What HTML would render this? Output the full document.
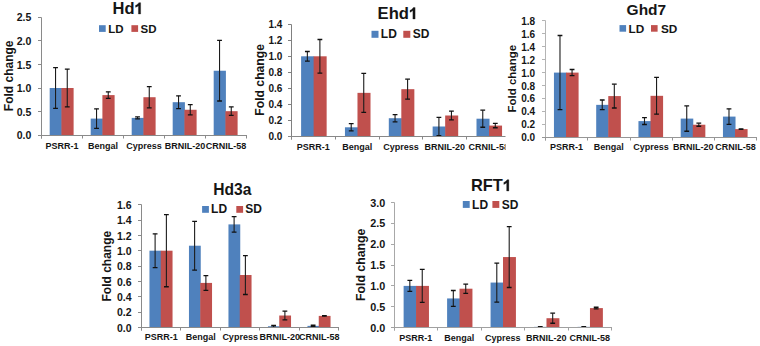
<!DOCTYPE html>
<html><head><meta charset="utf-8"><style>
html,body{margin:0;padding:0;background:#fff;width:760px;height:346px;overflow:hidden}
svg{display:block}
text{font-family:"Liberation Sans", sans-serif;font-weight:bold;fill:#151515}
</style></head><body>
<svg width="760" height="346" viewBox="0 0 760 346">
<rect width="760" height="346" fill="#fff"/>
<g>
<rect x="49.69" y="88" width="12.21" height="47.3" fill="#4F81BD"/>
<rect x="61.4" y="88" width="12.21" height="47.3" fill="#C0504D"/>
<rect x="90.69" y="118.6" width="12.21" height="16.7" fill="#4F81BD"/>
<rect x="102.4" y="95.1" width="12.21" height="40.2" fill="#C0504D"/>
<rect x="131.69" y="117.89" width="12.21" height="17.41" fill="#4F81BD"/>
<rect x="143.4" y="97.22" width="12.21" height="38.08" fill="#C0504D"/>
<rect x="172.69" y="102.19" width="12.21" height="33.11" fill="#4F81BD"/>
<rect x="184.4" y="109.76" width="12.21" height="25.54" fill="#C0504D"/>
<rect x="213.69" y="70.74" width="12.21" height="64.56" fill="#4F81BD"/>
<rect x="225.4" y="111.18" width="12.21" height="24.12" fill="#C0504D"/>
<path d="M55.54 67.66V108.34" stroke="#1c1c1c" stroke-width="1.1" fill="none"/>
<path d="M53.14 67.66H57.94M53.14 108.34H57.94" stroke="#111" stroke-width="1.3" fill="none"/>
<path d="M67.26 69.08V106.92" stroke="#1c1c1c" stroke-width="1.1" fill="none"/>
<path d="M64.86 69.08H69.66M64.86 106.92H69.66" stroke="#111" stroke-width="1.3" fill="none"/>
<path d="M96.54 108.91V128.3" stroke="#1c1c1c" stroke-width="1.1" fill="none"/>
<path d="M94.14 108.91H98.94M94.14 128.3H98.94" stroke="#111" stroke-width="1.3" fill="none"/>
<path d="M108.26 91.78V98.41" stroke="#1c1c1c" stroke-width="1.1" fill="none"/>
<path d="M105.86 91.78H110.66M105.86 98.41H110.66" stroke="#111" stroke-width="1.3" fill="none"/>
<path d="M137.54 116.95V118.84" stroke="#1c1c1c" stroke-width="1.1" fill="none"/>
<path d="M135.14 116.95H139.94M135.14 118.84H139.94" stroke="#111" stroke-width="1.3" fill="none"/>
<path d="M149.26 86.58V107.87" stroke="#1c1c1c" stroke-width="1.1" fill="none"/>
<path d="M146.86 86.58H151.66M146.86 107.87H151.66" stroke="#111" stroke-width="1.3" fill="none"/>
<path d="M178.54 95.8V108.58" stroke="#1c1c1c" stroke-width="1.1" fill="none"/>
<path d="M176.14 95.8H180.94M176.14 108.58H180.94" stroke="#111" stroke-width="1.3" fill="none"/>
<path d="M190.26 104.56V114.96" stroke="#1c1c1c" stroke-width="1.1" fill="none"/>
<path d="M187.86 104.56H192.66M187.86 114.96H192.66" stroke="#111" stroke-width="1.3" fill="none"/>
<path d="M219.54 40.46V101.01" stroke="#1c1c1c" stroke-width="1.1" fill="none"/>
<path d="M217.14 40.46H221.94M217.14 101.01H221.94" stroke="#111" stroke-width="1.3" fill="none"/>
<path d="M231.26 106.92V115.43" stroke="#1c1c1c" stroke-width="1.1" fill="none"/>
<path d="M228.86 106.92H233.66M228.86 115.43H233.66" stroke="#111" stroke-width="1.3" fill="none"/>
<path d="M41.5 17.5V138.5M38 135.5H41.5M38 111.5H41.5M38 88.5H41.5M38 64.5H41.5M38 40.5H41.5M38 17.5H41.5" stroke="#8a8a8a" stroke-width="1" fill="none"/>
<path d="M38 135.5H247M41.5 135.5V138.5M82.5 135.5V138.5M123.5 135.5V138.5M164.5 135.5V138.5M205.5 135.5V138.5M246.5 135.5V138.5" stroke="#8a8a8a" stroke-width="1" fill="none"/>
<text x="31.3" y="139.48" font-size="10.5" text-anchor="end">0.0</text>
<text x="31.3" y="115.83" font-size="10.5" text-anchor="end">0.5</text>
<text x="31.3" y="92.18" font-size="10.5" text-anchor="end">1.0</text>
<text x="31.3" y="68.53" font-size="10.5" text-anchor="end">1.5</text>
<text x="31.3" y="44.88" font-size="10.5" text-anchor="end">2.0</text>
<text x="31.3" y="21.23" font-size="10.5" text-anchor="end">2.5</text>
<text x="62" y="148.6" font-size="9" text-anchor="middle">PSRR-1</text>
<text x="103" y="148.6" font-size="9" text-anchor="middle">Bengal</text>
<text x="144" y="148.6" font-size="9" text-anchor="middle">Cypress</text>
<text x="185" y="148.6" font-size="9" text-anchor="middle">BRNIL-20</text>
<text x="226" y="148.6" font-size="9" text-anchor="middle">CRNIL-58</text>
</g>
<text x="112.51" y="14" font-size="16.5">Hd</text>
<path transform="translate(134.51 14) scale(0.00806 -0.00806)" d="M759 0H484V1033C384 940 266 871 129 826V1075C201 1099 279 1143 364 1209C449 1275 507 1355 538 1409H759Z" fill="#151515" stroke="#151515" stroke-width="0.3" vector-effect="non-scaling-stroke"/>
<rect x="99" y="25.2" width="6.7" height="6.7" fill="#4F81BD"/>
<rect x="131.4" y="25.2" width="6.7" height="6.7" fill="#C0504D"/>
<text x="108.2" y="32.9" font-size="11.5">LD</text>
<text x="140.6" y="32.9" font-size="11.5">SD</text>
<text transform="translate(12.6 75.8) rotate(-90)" font-size="12" text-anchor="middle">Fold change</text>
<clipPath id="c1"><rect x="0" y="0" width="505.5" height="346"/></clipPath>
<g clip-path="url(#c1)">
<rect x="301.1" y="56.3" width="13.03" height="80" fill="#4F81BD"/>
<rect x="313.62" y="56.3" width="13.03" height="80" fill="#C0504D"/>
<rect x="344.95" y="127.3" width="13.03" height="9" fill="#4F81BD"/>
<rect x="357.48" y="92.86" width="13.03" height="43.44" fill="#C0504D"/>
<rect x="388.8" y="118.22" width="13.03" height="18.08" fill="#4F81BD"/>
<rect x="401.32" y="89.18" width="13.03" height="47.12" fill="#C0504D"/>
<rect x="432.65" y="126.5" width="13.03" height="9.8" fill="#4F81BD"/>
<rect x="445.17" y="115.5" width="13.03" height="20.8" fill="#C0504D"/>
<rect x="476.5" y="118.7" width="13.03" height="17.6" fill="#4F81BD"/>
<rect x="489.02" y="125.58" width="13.03" height="10.72" fill="#C0504D"/>
<path d="M307.36 51.5V61.1" stroke="#1c1c1c" stroke-width="1.1" fill="none"/>
<path d="M304.96 51.5H309.76M304.96 61.1H309.76" stroke="#111" stroke-width="1.3" fill="none"/>
<path d="M319.89 39.5V73.1" stroke="#1c1c1c" stroke-width="1.1" fill="none"/>
<path d="M317.49 39.5H322.29M317.49 73.1H322.29" stroke="#111" stroke-width="1.3" fill="none"/>
<path d="M351.21 123.7V130.9" stroke="#1c1c1c" stroke-width="1.1" fill="none"/>
<path d="M348.81 123.7H353.61M348.81 130.9H353.61" stroke="#111" stroke-width="1.3" fill="none"/>
<path d="M363.74 73.42V112.3" stroke="#1c1c1c" stroke-width="1.1" fill="none"/>
<path d="M361.34 73.42H366.14M361.34 112.3H366.14" stroke="#111" stroke-width="1.3" fill="none"/>
<path d="M395.06 114.62V121.82" stroke="#1c1c1c" stroke-width="1.1" fill="none"/>
<path d="M392.66 114.62H397.46M392.66 121.82H397.46" stroke="#111" stroke-width="1.3" fill="none"/>
<path d="M407.59 79.18V99.18" stroke="#1c1c1c" stroke-width="1.1" fill="none"/>
<path d="M405.19 79.18H409.99M405.19 99.18H409.99" stroke="#111" stroke-width="1.3" fill="none"/>
<path d="M438.91 117.3V135.7" stroke="#1c1c1c" stroke-width="1.1" fill="none"/>
<path d="M436.51 117.3H441.31M436.51 135.7H441.31" stroke="#111" stroke-width="1.3" fill="none"/>
<path d="M451.44 111.1V119.9" stroke="#1c1c1c" stroke-width="1.1" fill="none"/>
<path d="M449.04 111.1H453.84M449.04 119.9H453.84" stroke="#111" stroke-width="1.3" fill="none"/>
<path d="M482.76 110.14V127.26" stroke="#1c1c1c" stroke-width="1.1" fill="none"/>
<path d="M480.36 110.14H485.16M480.36 127.26H485.16" stroke="#111" stroke-width="1.3" fill="none"/>
<path d="M495.29 123.42V127.74" stroke="#1c1c1c" stroke-width="1.1" fill="none"/>
<path d="M492.89 123.42H497.69M492.89 127.74H497.69" stroke="#111" stroke-width="1.3" fill="none"/>
<path d="M291.5 24.5V139.5M288 136.5H291.5M288 120.5H291.5M288 104.5H291.5M288 88.5H291.5M288 72.5H291.5M288 56.5H291.5M288 40.5H291.5M288 24.5H291.5" stroke="#808080" stroke-width="1" fill="none"/>
<path d="M288 136.5H511M291.5 136.5V139.5M335.5 136.5V139.5M379.5 136.5V139.5M422.5 136.5V139.5M466.5 136.5V139.5M510.5 136.5V139.5" stroke="#888888" stroke-width="1" fill="none"/>
<text x="282.3" y="140.3" font-size="10" text-anchor="end">0.0</text>
<text x="282.3" y="124.3" font-size="10" text-anchor="end">0.2</text>
<text x="282.3" y="108.3" font-size="10" text-anchor="end">0.4</text>
<text x="282.3" y="92.3" font-size="10" text-anchor="end">0.6</text>
<text x="282.3" y="76.3" font-size="10" text-anchor="end">0.8</text>
<text x="282.3" y="60.3" font-size="10" text-anchor="end">1.0</text>
<text x="282.3" y="44.3" font-size="10" text-anchor="end">1.2</text>
<text x="282.3" y="28.3" font-size="10" text-anchor="end">1.4</text>
<text x="313.32" y="149.6" font-size="9" text-anchor="middle">PSRR-1</text>
<text x="357.17" y="149.6" font-size="9" text-anchor="middle">Bengal</text>
<text x="401.02" y="149.6" font-size="9" text-anchor="middle">Cypress</text>
<text x="444.88" y="149.6" font-size="9" text-anchor="middle">BRNIL-20</text>
<text x="488.73" y="149.6" font-size="9" text-anchor="middle">CRNIL-58</text>
</g>
<text x="377.61" y="19" font-size="16.6">Ehd</text>
<path transform="translate(408.96 19) scale(0.00811 -0.00811)" d="M759 0H484V1033C384 940 266 871 129 826V1075C201 1099 279 1143 364 1209C449 1275 507 1355 538 1409H759Z" fill="#151515" stroke="#151515" stroke-width="0.3" vector-effect="non-scaling-stroke"/>
<rect x="371.5" y="30.8" width="7" height="7" fill="#4F81BD"/>
<rect x="403.3" y="30.8" width="7" height="7" fill="#C0504D"/>
<text x="380.8" y="38.3" font-size="12">LD</text>
<text x="412.7" y="38.3" font-size="12">SD</text>
<text transform="translate(263.5 79.85) rotate(-90)" font-size="12.2" text-anchor="middle">Fold change</text>
<g>
<rect x="553.95" y="72.6" width="12.57" height="64.5" fill="#4F81BD"/>
<rect x="566.02" y="72.6" width="12.57" height="64.5" fill="#C0504D"/>
<rect x="596.2" y="104.85" width="12.57" height="32.25" fill="#4F81BD"/>
<rect x="608.27" y="96.08" width="12.57" height="41.02" fill="#C0504D"/>
<rect x="638.45" y="121.1" width="12.57" height="16" fill="#4F81BD"/>
<rect x="650.52" y="95.82" width="12.57" height="41.28" fill="#C0504D"/>
<rect x="680.7" y="118.59" width="12.57" height="18.51" fill="#4F81BD"/>
<rect x="692.77" y="124.72" width="12.57" height="12.38" fill="#C0504D"/>
<rect x="722.95" y="116.59" width="12.57" height="20.51" fill="#4F81BD"/>
<rect x="735.02" y="129.1" width="12.57" height="8" fill="#C0504D"/>
<path d="M559.99 35.51V109.69" stroke="#1c1c1c" stroke-width="1.1" fill="none"/>
<path d="M557.59 35.51H562.39M557.59 109.69H562.39" stroke="#111" stroke-width="1.3" fill="none"/>
<path d="M572.06 69.5V75.7" stroke="#1c1c1c" stroke-width="1.1" fill="none"/>
<path d="M569.66 69.5H574.46M569.66 75.7H574.46" stroke="#111" stroke-width="1.3" fill="none"/>
<path d="M602.24 100.01V109.69" stroke="#1c1c1c" stroke-width="1.1" fill="none"/>
<path d="M599.84 100.01H604.64M599.84 109.69H604.64" stroke="#111" stroke-width="1.3" fill="none"/>
<path d="M614.31 84.15V108.01" stroke="#1c1c1c" stroke-width="1.1" fill="none"/>
<path d="M611.91 84.15H616.71M611.91 108.01H616.71" stroke="#111" stroke-width="1.3" fill="none"/>
<path d="M644.49 117.69V124.52" stroke="#1c1c1c" stroke-width="1.1" fill="none"/>
<path d="M642.09 117.69H646.89M642.09 124.52H646.89" stroke="#111" stroke-width="1.3" fill="none"/>
<path d="M656.56 77.44V114.2" stroke="#1c1c1c" stroke-width="1.1" fill="none"/>
<path d="M654.16 77.44H658.96M654.16 114.2H658.96" stroke="#111" stroke-width="1.3" fill="none"/>
<path d="M686.74 105.95V131.23" stroke="#1c1c1c" stroke-width="1.1" fill="none"/>
<path d="M684.34 105.95H689.14M684.34 131.23H689.14" stroke="#111" stroke-width="1.3" fill="none"/>
<path d="M698.81 123.17V126.26" stroke="#1c1c1c" stroke-width="1.1" fill="none"/>
<path d="M696.41 123.17H701.21M696.41 126.26H701.21" stroke="#111" stroke-width="1.3" fill="none"/>
<path d="M728.99 108.85V124.33" stroke="#1c1c1c" stroke-width="1.1" fill="none"/>
<path d="M726.59 108.85H731.39M726.59 124.33H731.39" stroke="#111" stroke-width="1.3" fill="none"/>
<path d="M741.06 128.78V129.42" stroke="#1c1c1c" stroke-width="1.1" fill="none"/>
<path d="M738.66 128.78H743.46M738.66 129.42H743.46" stroke="#111" stroke-width="1.3" fill="none"/>
<path d="M545.5 20.5V140.5M542 137.5H545.5M542 124.5H545.5M542 111.5H545.5M542 98.5H545.5M542 85.5H545.5M542 72.5H545.5M542 59.5H545.5M542 46.5H545.5M542 33.5H545.5M542 20.5H545.5" stroke="#b4b4b4" stroke-width="1" fill="none"/>
<path d="M542 137.5H757M545.5 137.5V140.5M587.5 137.5V140.5M630.5 137.5V140.5M672.5 137.5V140.5M714.5 137.5V140.5M756.5 137.5V140.5" stroke="#969696" stroke-width="1" fill="none"/>
<text x="535.2" y="141.1" font-size="10" text-anchor="end">0.0</text>
<text x="535.2" y="128.2" font-size="10" text-anchor="end">0.2</text>
<text x="535.2" y="115.3" font-size="10" text-anchor="end">0.4</text>
<text x="535.2" y="102.4" font-size="10" text-anchor="end">0.6</text>
<text x="535.2" y="89.5" font-size="10" text-anchor="end">0.8</text>
<text x="535.2" y="76.6" font-size="10" text-anchor="end">1.0</text>
<text x="535.2" y="63.7" font-size="10" text-anchor="end">1.2</text>
<text x="535.2" y="50.8" font-size="10" text-anchor="end">1.4</text>
<text x="535.2" y="37.9" font-size="10" text-anchor="end">1.6</text>
<text x="535.2" y="25" font-size="10" text-anchor="end">1.8</text>
<text x="566.62" y="149.8" font-size="9" text-anchor="middle">PSRR-1</text>
<text x="608.88" y="149.8" font-size="9" text-anchor="middle">Bengal</text>
<text x="651.12" y="149.8" font-size="9" text-anchor="middle">Cypress</text>
<text x="693.38" y="149.8" font-size="9" text-anchor="middle">BRNIL-20</text>
<text x="735.62" y="149.8" font-size="9" text-anchor="middle">CRNIL-58</text>
</g>
<text x="646.4" y="15.1" font-size="15.5" text-anchor="middle">Ghd7</text>
<rect x="619.5" y="25.1" width="6.6" height="6.6" fill="#4F81BD"/>
<rect x="651" y="25.1" width="6.6" height="6.6" fill="#C0504D"/>
<text x="628.6" y="32.7" font-size="11.8">LD</text>
<text x="661" y="32.7" font-size="11.8">SD</text>
<text transform="translate(516 78.7) rotate(-90)" font-size="11.5" text-anchor="middle">Fold change</text>
<g>
<rect x="149.46" y="250.7" width="11.79" height="76.7" fill="#4F81BD"/>
<rect x="160.75" y="250.7" width="11.79" height="76.7" fill="#C0504D"/>
<rect x="188.96" y="245.71" width="11.79" height="81.69" fill="#4F81BD"/>
<rect x="200.25" y="282.91" width="11.79" height="44.49" fill="#C0504D"/>
<rect x="228.46" y="224.39" width="11.79" height="103.01" fill="#4F81BD"/>
<rect x="239.75" y="275.01" width="11.79" height="52.39" fill="#C0504D"/>
<rect x="267.96" y="326.25" width="11.79" height="1.15" fill="#4F81BD"/>
<rect x="279.25" y="315.51" width="11.79" height="11.89" fill="#C0504D"/>
<rect x="307.46" y="325.87" width="11.79" height="1.53" fill="#4F81BD"/>
<rect x="318.75" y="315.89" width="11.79" height="11.5" fill="#C0504D"/>
<path d="M155.11 233.83V267.57" stroke="#1c1c1c" stroke-width="1.1" fill="none"/>
<path d="M152.71 233.83H157.51M152.71 267.57H157.51" stroke="#111" stroke-width="1.3" fill="none"/>
<path d="M166.39 214.65V286.75" stroke="#1c1c1c" stroke-width="1.1" fill="none"/>
<path d="M163.99 214.65H168.79M163.99 286.75H168.79" stroke="#111" stroke-width="1.3" fill="none"/>
<path d="M194.61 221.4V270.03" stroke="#1c1c1c" stroke-width="1.1" fill="none"/>
<path d="M192.21 221.4H197.01M192.21 270.03H197.01" stroke="#111" stroke-width="1.3" fill="none"/>
<path d="M205.89 275.55V290.28" stroke="#1c1c1c" stroke-width="1.1" fill="none"/>
<path d="M203.49 275.55H208.29M203.49 290.28H208.29" stroke="#111" stroke-width="1.3" fill="none"/>
<path d="M234.11 216.72V232.06" stroke="#1c1c1c" stroke-width="1.1" fill="none"/>
<path d="M231.71 216.72H236.51M231.71 232.06H236.51" stroke="#111" stroke-width="1.3" fill="none"/>
<path d="M245.39 255.53V294.5" stroke="#1c1c1c" stroke-width="1.1" fill="none"/>
<path d="M242.99 255.53H247.79M242.99 294.5H247.79" stroke="#111" stroke-width="1.3" fill="none"/>
<path d="M273.61 325.33V327.17" stroke="#1c1c1c" stroke-width="1.1" fill="none"/>
<path d="M271.21 325.33H276.01M271.21 327.17H276.01" stroke="#111" stroke-width="1.3" fill="none"/>
<path d="M284.89 311.06V319.96" stroke="#1c1c1c" stroke-width="1.1" fill="none"/>
<path d="M282.49 311.06H287.29M282.49 319.96H287.29" stroke="#111" stroke-width="1.3" fill="none"/>
<path d="M313.11 325.25V326.48" stroke="#1c1c1c" stroke-width="1.1" fill="none"/>
<path d="M310.71 325.25H315.51M310.71 326.48H315.51" stroke="#111" stroke-width="1.3" fill="none"/>
<path d="M324.39 315.66V316.13" stroke="#1c1c1c" stroke-width="1.1" fill="none"/>
<path d="M321.99 315.66H326.79M321.99 316.13H326.79" stroke="#111" stroke-width="1.3" fill="none"/>
<path d="M141.5 204.5V330.5M138 327.5H141.5M138 312.5H141.5M138 296.5H141.5M138 281.5H141.5M138 266.5H141.5M138 250.5H141.5M138 235.5H141.5M138 220.5H141.5M138 204.5H141.5" stroke="#8a8a8a" stroke-width="1" fill="none"/>
<path d="M138 327.5H339M141.5 327.5V330.5M180.5 327.5V330.5M220.5 327.5V330.5M259.5 327.5V330.5M299.5 327.5V330.5M338.5 327.5V330.5" stroke="#8a8a8a" stroke-width="1" fill="none"/>
<text x="131.5" y="331.58" font-size="10.5" text-anchor="end">0.0</text>
<text x="131.5" y="316.24" font-size="10.5" text-anchor="end">0.2</text>
<text x="131.5" y="300.9" font-size="10.5" text-anchor="end">0.4</text>
<text x="131.5" y="285.56" font-size="10.5" text-anchor="end">0.6</text>
<text x="131.5" y="270.22" font-size="10.5" text-anchor="end">0.8</text>
<text x="131.5" y="254.88" font-size="10.5" text-anchor="end">1.0</text>
<text x="131.5" y="239.54" font-size="10.5" text-anchor="end">1.2</text>
<text x="131.5" y="224.2" font-size="10.5" text-anchor="end">1.4</text>
<text x="131.5" y="208.86" font-size="10.5" text-anchor="end">1.6</text>
<text x="161.15" y="340" font-size="9" text-anchor="middle">PSRR-1</text>
<text x="200.65" y="340" font-size="9" text-anchor="middle">Bengal</text>
<text x="240.15" y="340" font-size="9" text-anchor="middle">Cypress</text>
<text x="279.65" y="340" font-size="9" text-anchor="middle">BRNIL-20</text>
<text x="319.15" y="340" font-size="9" text-anchor="middle">CRNIL-58</text>
</g>
<text x="232.3" y="194.5" font-size="15.6" text-anchor="middle">Hd3a</text>
<rect x="202.1" y="206" width="6.8" height="6.8" fill="#4F81BD"/>
<rect x="236.3" y="206" width="6.8" height="6.8" fill="#C0504D"/>
<text x="211.1" y="212.9" font-size="12">LD</text>
<text x="245.2" y="212.9" font-size="12">SD</text>
<text transform="translate(110.8 266.2) rotate(-90)" font-size="12" text-anchor="middle">Fold change</text>
<g>
<rect x="403.62" y="285.9" width="12.92" height="41.8" fill="#4F81BD"/>
<rect x="416.04" y="285.9" width="12.92" height="41.8" fill="#C0504D"/>
<rect x="447.1" y="298.44" width="12.92" height="29.26" fill="#4F81BD"/>
<rect x="459.52" y="288.7" width="12.92" height="39" fill="#C0504D"/>
<rect x="490.58" y="282.56" width="12.92" height="45.14" fill="#4F81BD"/>
<rect x="503" y="257.06" width="12.92" height="70.64" fill="#C0504D"/>
<rect x="534.06" y="326.86" width="12.92" height="0.84" fill="#4F81BD"/>
<rect x="546.48" y="318.21" width="12.92" height="9.49" fill="#C0504D"/>
<rect x="577.54" y="326.86" width="12.92" height="0.84" fill="#4F81BD"/>
<rect x="589.96" y="308.1" width="12.92" height="19.6" fill="#C0504D"/>
<path d="M409.83 280.47V291.33" stroke="#1c1c1c" stroke-width="1.1" fill="none"/>
<path d="M407.43 280.47H412.23M407.43 291.33H412.23" stroke="#111" stroke-width="1.3" fill="none"/>
<path d="M422.25 269.39V302.41" stroke="#1c1c1c" stroke-width="1.1" fill="none"/>
<path d="M419.85 269.39H424.65M419.85 302.41H424.65" stroke="#111" stroke-width="1.3" fill="none"/>
<path d="M453.31 290.5V306.38" stroke="#1c1c1c" stroke-width="1.1" fill="none"/>
<path d="M450.91 290.5H455.71M450.91 306.38H455.71" stroke="#111" stroke-width="1.3" fill="none"/>
<path d="M465.73 284.1V293.3" stroke="#1c1c1c" stroke-width="1.1" fill="none"/>
<path d="M463.33 284.1H468.13M463.33 293.3H468.13" stroke="#111" stroke-width="1.3" fill="none"/>
<path d="M496.79 263.04V302.08" stroke="#1c1c1c" stroke-width="1.1" fill="none"/>
<path d="M494.39 263.04H499.19M494.39 302.08H499.19" stroke="#111" stroke-width="1.3" fill="none"/>
<path d="M509.21 226.63V287.49" stroke="#1c1c1c" stroke-width="1.1" fill="none"/>
<path d="M506.81 226.63H511.61M506.81 287.49H511.61" stroke="#111" stroke-width="1.3" fill="none"/>
<path d="M540.27 326.53V327.2" stroke="#1c1c1c" stroke-width="1.1" fill="none"/>
<path d="M537.87 326.53H542.67M537.87 327.2H542.67" stroke="#111" stroke-width="1.3" fill="none"/>
<path d="M552.69 313.2V323.23" stroke="#1c1c1c" stroke-width="1.1" fill="none"/>
<path d="M550.29 313.2H555.09M550.29 323.23H555.09" stroke="#111" stroke-width="1.3" fill="none"/>
<path d="M583.75 326.61V327.11" stroke="#1c1c1c" stroke-width="1.1" fill="none"/>
<path d="M581.35 326.61H586.15M581.35 327.11H586.15" stroke="#111" stroke-width="1.3" fill="none"/>
<path d="M596.17 307.26V308.93" stroke="#1c1c1c" stroke-width="1.1" fill="none"/>
<path d="M593.77 307.26H598.57M593.77 308.93H598.57" stroke="#111" stroke-width="1.3" fill="none"/>
<path d="M394.5 202.5V330.5M391 327.5H394.5M391 306.5H394.5M391 285.5H394.5M391 265.5H394.5M391 244.5H394.5M391 223.5H394.5M391 202.5H394.5" stroke="#a8a8a8" stroke-width="1" fill="none"/>
<path d="M391 327.5H612M394.5 327.5V330.5M437.5 327.5V330.5M481.5 327.5V330.5M524.5 327.5V330.5M568.5 327.5V330.5M611.5 327.5V330.5" stroke="#a0a0a0" stroke-width="1" fill="none"/>
<text x="385.3" y="331.99" font-size="10.8" text-anchor="end">0.0</text>
<text x="385.3" y="311.09" font-size="10.8" text-anchor="end">0.5</text>
<text x="385.3" y="290.19" font-size="10.8" text-anchor="end">1.0</text>
<text x="385.3" y="269.29" font-size="10.8" text-anchor="end">1.5</text>
<text x="385.3" y="248.39" font-size="10.8" text-anchor="end">2.0</text>
<text x="385.3" y="227.49" font-size="10.8" text-anchor="end">2.5</text>
<text x="385.3" y="206.59" font-size="10.8" text-anchor="end">3.0</text>
<text x="415.84" y="341" font-size="9" text-anchor="middle">PSRR-1</text>
<text x="459.32" y="341" font-size="9" text-anchor="middle">Bengal</text>
<text x="502.8" y="341" font-size="9" text-anchor="middle">Cypress</text>
<text x="546.28" y="341" font-size="9" text-anchor="middle">BRNIL-20</text>
<text x="589.76" y="341" font-size="9" text-anchor="middle">CRNIL-58</text>
</g>
<text x="470.9" y="191" font-size="16.4">RFT</text>
<path transform="translate(502.78 191) scale(0.00801 -0.00801)" d="M759 0H484V1033C384 940 266 871 129 826V1075C201 1099 279 1143 364 1209C449 1275 507 1355 538 1409H759Z" fill="#151515" stroke="#151515" stroke-width="0.3" vector-effect="non-scaling-stroke"/>
<rect x="462.8" y="201" width="6.9" height="6.9" fill="#4F81BD"/>
<rect x="492.4" y="201" width="6.9" height="6.9" fill="#C0504D"/>
<text x="472.1" y="208.6" font-size="12">LD</text>
<text x="501.8" y="208.6" font-size="12">SD</text>
<text transform="translate(365.2 264.8) rotate(-90)" font-size="12.3" text-anchor="middle">Fold change</text>
</svg>
</body></html>
